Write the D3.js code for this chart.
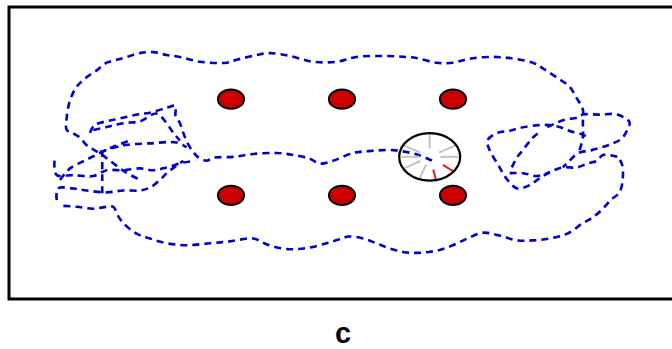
<!DOCTYPE html>
<html>
<head>
<meta charset="utf-8">
<script src="https://cdn.jsdelivr.net/npm/d3@7"></script>
<style>
  html, body { margin: 0; padding: 0; background: #fff; }
  svg { display: block; }
</style>
</head>
<body>
<div id="chart"></div>
<script>
// arena extent (metres)
const arenaX = [0, 6];
const arenaY = [-0.08, 2.96];

// target posts
const targetsX = [2, 3, 4, 2, 3, 4];
const targetsY = [2, 2, 2, 1, 1, 1];
const targetR = 0.118;

// robot pose + sensor rays (deg)
const robotPos = [3.79, 1.40];
const robotR = 0.275;
const rayAngles = [0, 30, 90, 150, 180, 210, 250];
const hitAngles = [-78, -38];

// recorded trajectory, split into stretches [x, y] in metres
const bottomArc = [[0.49,0.89],[0.61,0.88],[0.76,0.86],[0.88,0.88],[0.94,0.88],[0.98,0.79],[1.03,0.71],[1.15,0.60],[1.27,0.55],[1.42,0.50],[1.60,0.48],[1.81,0.50],[1.99,0.52],[2.20,0.55],[2.32,0.49],[2.50,0.44],[2.68,0.45],[2.86,0.50],[2.97,0.54],[3.06,0.57],[3.19,0.55],[3.31,0.50],[3.42,0.45],[3.55,0.41],[3.67,0.40],[3.78,0.41],[3.88,0.43],[4.00,0.48],[4.13,0.55],[4.27,0.61],[4.42,0.58],[4.58,0.53],[4.72,0.53],[4.87,0.55],[5.03,0.60],[5.17,0.71],[5.26,0.77],[5.35,0.86],[5.42,0.95],[5.50,1.03],[5.53,1.18],[5.52,1.33],[5.48,1.40]];
const rightLoop = [[5.48,1.40],[5.35,1.42],[5.30,1.36],[5.21,1.33],[5.12,1.29],[4.99,1.29],[4.87,1.24],[4.76,1.16],[4.68,1.10],[4.58,1.07],[4.49,1.16],[4.41,1.31],[4.33,1.47],[4.31,1.57],[4.40,1.65],[4.51,1.67],[4.60,1.70],[4.77,1.73],[4.87,1.73],[4.96,1.71],[5.05,1.67],[5.17,1.63],[5.23,1.59]];
const rightCross = [[4.53,1.29],[4.58,1.40],[4.63,1.47],[4.71,1.59],[4.77,1.65]];
const rightLower = [[4.51,1.23],[4.63,1.23],[4.76,1.20],[4.87,1.24]];
const rightUpper = [[4.85,1.71],[4.99,1.78],[5.12,1.81],[5.17,1.84],[5.32,1.84],[5.48,1.84],[5.59,1.76],[5.57,1.68],[5.52,1.59],[5.44,1.54],[5.37,1.51],[5.25,1.47],[5.13,1.44],[5.05,1.36],[4.99,1.29]];
const topArc = [[5.14,1.47],[5.17,1.60],[5.17,1.75],[5.17,1.89],[5.11,2.02],[5.05,2.13],[4.93,2.23],[4.81,2.32],[4.72,2.38],[4.50,2.43],[4.32,2.44],[4.14,2.42],[4.00,2.38],[3.85,2.38],[3.67,2.43],[3.58,2.44],[3.40,2.45],[3.13,2.44],[2.95,2.39],[2.74,2.39],[2.53,2.45],[2.35,2.48],[2.23,2.46],[2.05,2.41],[1.96,2.38],[1.72,2.39],[1.54,2.44],[1.42,2.46],[1.30,2.49],[1.18,2.48],[1.06,2.44],[0.97,2.41],[0.88,2.38],[0.79,2.30],[0.70,2.23],[0.61,2.13],[0.55,1.99],[0.52,1.81],[0.52,1.68],[0.57,1.65],[0.64,1.60],[0.70,1.52],[0.77,1.47],[0.84,1.42],[0.91,1.36],[1.05,1.24],[1.18,1.16]];
const leafOuter = [[0.73,1.65],[0.77,1.73],[0.88,1.77],[1.00,1.80],[1.15,1.84],[1.27,1.86],[1.42,1.91],[1.50,1.93],[1.50,1.83],[1.54,1.75],[1.57,1.65],[1.61,1.54],[1.66,1.45],[1.70,1.40],[1.78,1.36],[1.84,1.39],[2.02,1.40],[2.20,1.43],[2.41,1.44],[2.56,1.42],[2.71,1.38],[2.80,1.33],[2.92,1.36],[3.10,1.44],[3.24,1.46],[3.46,1.47],[3.58,1.45],[3.69,1.42],[3.81,1.36]];
const leafInner = [[0.76,1.68],[0.88,1.71],[1.03,1.75],[1.18,1.77],[1.33,1.85],[1.42,1.75],[1.48,1.65],[1.54,1.57]];
const knotMid = [[0.82,1.45],[1.03,1.52],[1.27,1.54],[1.51,1.55],[1.60,1.50]];
const knotLowA = [[0.41,1.36],[0.41,1.29],[0.43,1.21],[0.58,1.21],[0.76,1.20],[0.88,1.26],[1.03,1.26],[1.18,1.28],[1.30,1.26],[1.42,1.29],[1.57,1.34],[1.68,1.36]];
const knotLowB = [[0.43,0.95],[0.44,1.07],[0.58,1.07],[0.70,1.05],[0.88,1.03],[1.03,1.05],[1.18,1.05],[1.27,1.08],[1.36,1.16],[1.42,1.23],[1.50,1.30],[1.57,1.36]];
const knotStem = [[0.84,1.47],[0.84,1.21],[0.84,1.02]];
const knotDiag = [[0.46,1.16],[0.55,1.28],[0.68,1.36],[0.82,1.44],[0.95,1.51],[1.09,1.57]];

const trajectory = [bottomArc, rightLoop, rightCross, rightLower, rightUpper, topArc,
  leafOuter, leafInner, knotMid, knotLowA, knotLowB, knotStem, knotDiag];

const W = 672, H = 349;
const svg = d3.select('#chart').append('svg').attr('width', W).attr('height', H);

const x = d3.scaleLinear().domain(arenaX).range([9, 675]);
const y = d3.scaleLinear().domain(arenaY).range([299, 7]);

// arena frame
svg.append('rect')
  .attr('x', x(arenaX[0])).attr('y', y(arenaY[1]))
  .attr('width', x(arenaX[1]) - x(arenaX[0])).attr('height', y(arenaY[0]) - y(arenaY[1]))
  .attr('fill', 'none').attr('stroke', '#000').attr('stroke-width', 3);

// trajectory
const line = d3.line().x(d => x(d[0])).y(d => y(d[1])).curve(d3.curveCatmullRom.alpha(0.5));
svg.append('g').selectAll('path').data(trajectory).join('path')
  .attr('d', line)
  .attr('fill', 'none').attr('stroke', '#0000cc').attr('stroke-width', 2.6)
  .attr('stroke-dasharray', '7,5');

// targets
const rx = x(targetR) - x(0), ry = (y(0) - y(targetR)) * 0.85;
svg.append('g').selectAll('ellipse').data(targetsX.map((d, i) => [d, targetsY[i]])).join('ellipse')
  .attr('cx', d => x(d[0])).attr('cy', d => y(d[1]))
  .attr('rx', rx).attr('ry', ry)
  .attr('fill', '#cc0000').attr('stroke', '#000').attr('stroke-width', 2);

// robot
const rob = svg.append('g');
const Rx = x(robotR) - x(0), Ry = (y(0) - y(robotR)) * 0.9;
const cx = x(robotPos[0]), cy = y(robotPos[1]);
rob.selectAll('line.ray').data(rayAngles).join('line').attr('class', 'ray')
  .attr('x1', a => cx + Rx * 0.35 * Math.cos(a * Math.PI / 180))
  .attr('y1', a => cy - Ry * 0.35 * Math.sin(a * Math.PI / 180))
  .attr('x2', a => cx + Rx * 0.95 * Math.cos(a * Math.PI / 180))
  .attr('y2', a => cy - Ry * 0.95 * Math.sin(a * Math.PI / 180))
  .attr('stroke', '#c4c4c4').attr('stroke-width', 2);
rob.selectAll('line.hit').data(hitAngles).join('line').attr('class', 'hit')
  .attr('x1', a => cx + Rx * 0.55 * Math.cos(a * Math.PI / 180))
  .attr('y1', a => cy - Ry * 0.55 * Math.sin(a * Math.PI / 180))
  .attr('x2', a => cx + Rx * 1.02 * Math.cos(a * Math.PI / 180))
  .attr('y2', a => cy - Ry * 1.02 * Math.sin(a * Math.PI / 180))
  .attr('stroke', '#dd2222').attr('stroke-width', 2);
rob.append('ellipse')
  .attr('cx', cx).attr('cy', cy).attr('rx', Rx).attr('ry', Ry)
  .attr('fill', 'none').attr('stroke', '#000').attr('stroke-width', 2.2);

// panel label
svg.append('text').attr('x', 343).attr('y', 342.5).attr('text-anchor', 'middle')
  .style('font-family', '"Liberation Sans Narrow", "Liberation Sans", Arial, sans-serif')
  .style('font-weight', 'bold').style('font-size', '29px').style('fill', '#000')
  .text('c');
</script>
</body>
</html>
